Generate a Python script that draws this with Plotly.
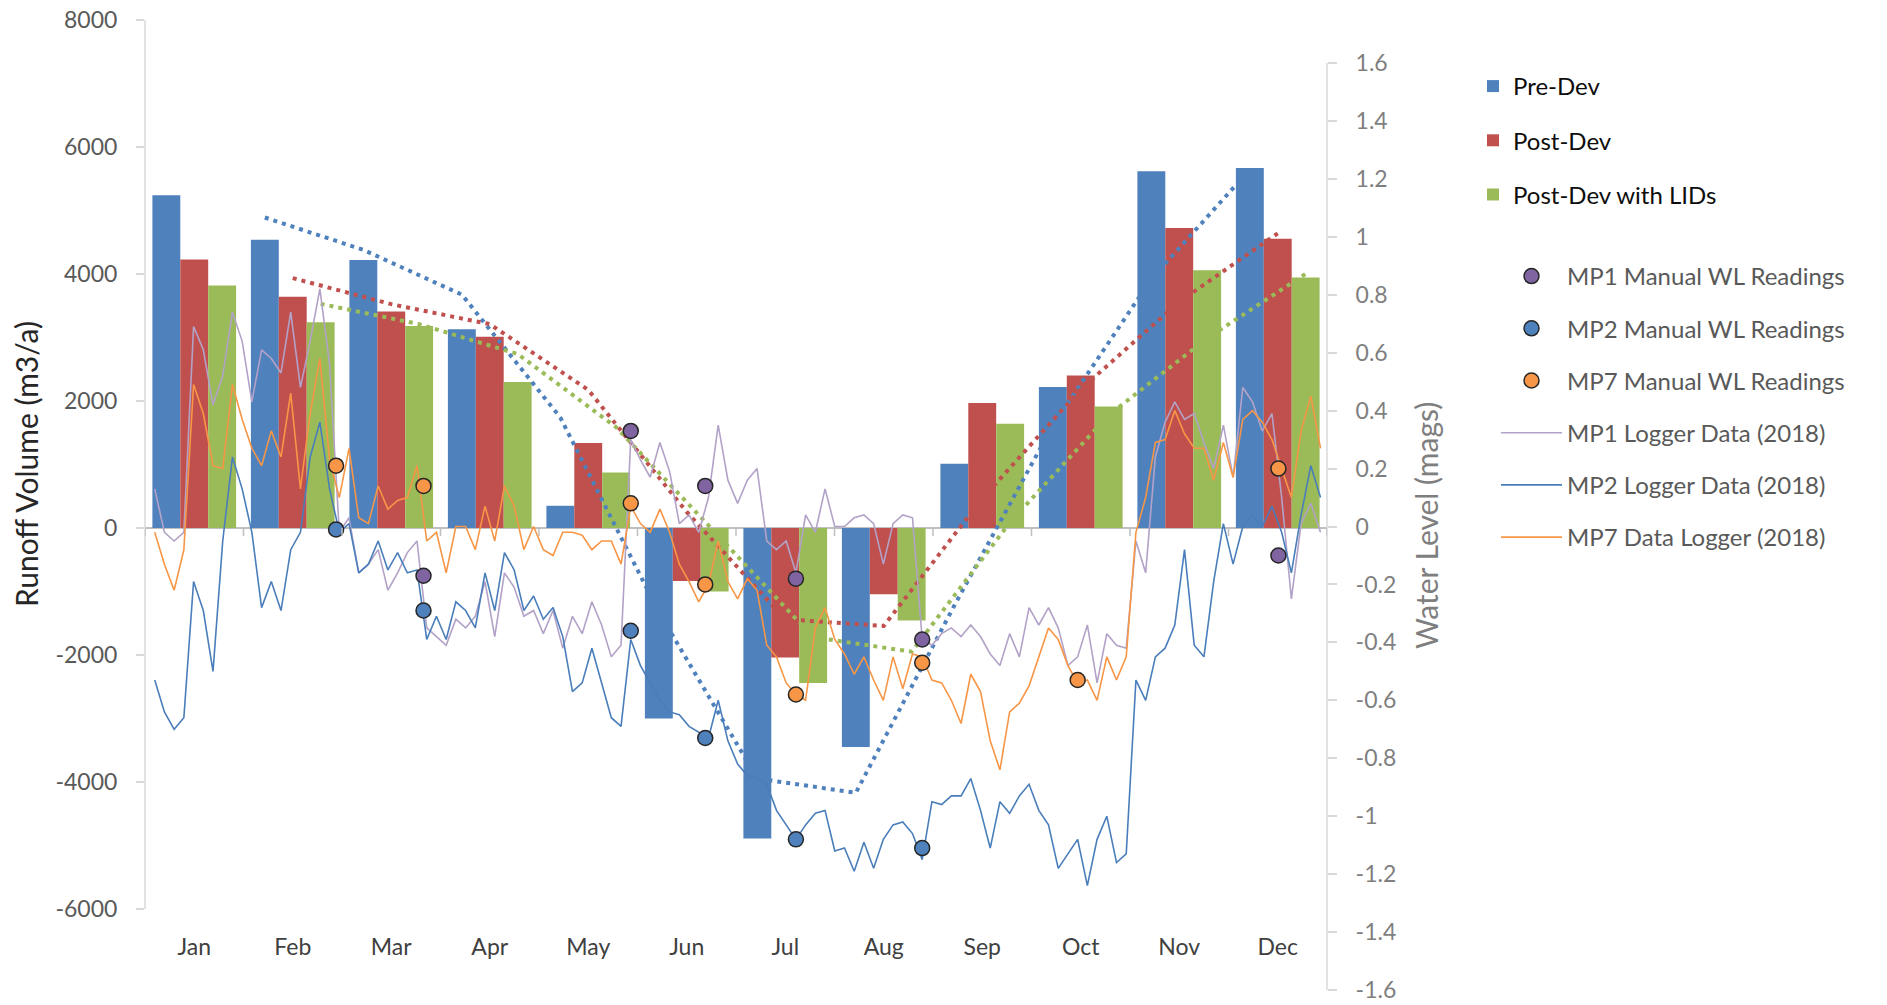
import plotly.graph_objects as go

# ---- Monthly runoff volumes (m3/a) ----
months = ["Jan", "Feb", "Mar", "Apr", "May", "Jun", "Jul", "Aug", "Sep", "Oct", "Nov", "Dec"]
pre_dev = [5240, 4540, 4220, 3130, 350, -3000, -4890, -3450, 1010, 2220, 5620, 5670]
post_dev = [4230, 3640, 3410, 3010, 1340, -835, -2040, -1045, 1970, 2400, 4725, 4555]
post_dev_lid = [3820, 3240, 3180, 2300, 875, -1000, -2440, -1455, 1640, 1915, 4060, 3945]

# ---- Logger water levels (mags), sampled every 3 days of 2018 ----
logger_days = list(range(3, 364, 3))
mp1_logger = [
    0.13, -0.02, -0.05, -0.02, 0.69, 0.61, 0.42, 0.52, 0.74, 0.64, 0.43, 0.61,
    0.58, 0.53, 0.74, 0.48, 0.64, 0.82, 0.56, -0.02, 0.03, -0.16, -0.13, -0.08,
    -0.22, -0.16, -0.09, -0.05, -0.35, -0.38, -0.41, -0.32, -0.35, -0.31, -0.19, -0.38,
    -0.16, -0.21, -0.31, -0.29, -0.37, -0.29, -0.42, -0.31, -0.37, -0.26, -0.34, -0.45,
    -0.41,
    0.30, 0.23, 0.17, 0.29, 0.19, 0.01, 0.04, -0.02, 0.10, 0.35, 0.16, 0.08,
    0.16, 0.20, -0.05, -0.08, -0.05, -0.16, 0.04, -0.02, 0.13, 0.00, 0.00, 0.03,
    0.04,
    0.01, -0.13, 0.01, 0.04, 0.03, -0.39, -0.41, -0.37, -0.35, -0.38, -0.34, -0.38,
    -0.44, -0.48, -0.37, -0.45, -0.28, -0.34, -0.28, -0.35, -0.48, -0.45, -0.34, -0.54,
    -0.37,
    -0.41, -0.42, -0.05, -0.16, 0.24, 0.36, 0.43, 0.37, 0.39, 0.29, 0.20, 0.35,
    0.17, 0.48, 0.43, 0.33, 0.39, 0.10, -0.25, 0.01, 0.08, -0.02,
]
mp2_logger = [
    -0.53, -0.64, -0.70, -0.66, -0.19, -0.29, -0.50, -0.05, 0.24, 0.13, -0.02, -0.28,
    -0.19, -0.29, -0.08, -0.02, 0.24, 0.36, 0.13, -0.02, 0.01, -0.16, -0.13, -0.05,
    -0.15, -0.09, -0.16, -0.15, -0.39, -0.31, -0.39, -0.26, -0.29, -0.35, -0.16, -0.29,
    -0.09, -0.15, -0.29, -0.24, -0.32, -0.28, -0.38, -0.57, -0.54, -0.42, -0.54, -0.66,
    -0.69,
    -0.39, -0.48, -0.54, -0.60, -0.64, -0.65, -0.69, -0.71, -0.73, -0.60, -0.74, -0.82,
    -0.86, -0.87, -0.89, -0.98, -1.03, -1.08, -1.03, -0.99, -0.98, -1.12, -1.11, -1.19,
    -1.09,
    -1.18, -1.08, -1.03, -1.02, -1.06, -1.15, -0.95, -0.96, -0.93, -0.93, -0.87, -0.98,
    -1.11, -0.95, -0.99, -0.93, -0.89, -0.98, -1.03, -1.18, -1.13, -1.08, -1.24, -1.08,
    -1.00,
    -1.16, -1.13, -0.53, -0.60, -0.45, -0.42, -0.34, -0.08, -0.41, -0.45, -0.19, 0.01,
    -0.13, 0.00, 0.04, 0.00, 0.07, -0.02, -0.16, 0.04, 0.21, 0.10,
]
mp7_logger = [
    -0.02, -0.13, -0.22, -0.08, 0.49, 0.39, 0.21, 0.20, 0.49, 0.37, 0.27, 0.21,
    0.33, 0.24, 0.46, 0.13, 0.39, 0.58, 0.23, 0.10, 0.27, 0.03, 0.01, 0.14,
    0.06, 0.09, 0.10, 0.21, -0.05, -0.02, -0.16, 0.00, 0.00, -0.08, 0.07, -0.05,
    0.14, 0.07, -0.08, 0.00, -0.08, -0.10, -0.02, -0.02, -0.03, -0.08, -0.05, -0.05,
    -0.13,
    0.07, 0.01, -0.02, 0.06, -0.02, -0.13, -0.19, -0.26, -0.20, -0.05, -0.19, -0.25,
    -0.18, -0.22, -0.41, -0.45, -0.54, -0.58, -0.60, -0.35, -0.28, -0.39, -0.44, -0.51,
    -0.45,
    -0.53, -0.60, -0.45, -0.56, -0.44, -0.45, -0.53, -0.54, -0.60, -0.68, -0.51, -0.57,
    -0.74, -0.84, -0.64, -0.61, -0.55, -0.45, -0.35, -0.39, -0.48, -0.54, -0.53, -0.60,
    -0.45,
    -0.53, -0.45, -0.02, 0.10, 0.29, 0.30, 0.40, 0.32, 0.27, 0.27, 0.16, 0.29,
    0.17, 0.37, 0.40, 0.36, 0.30, 0.20, 0.10, 0.33, 0.45, 0.27,
]

# ---- Manual water level readings (day of year, mags) ----
mp1_manual_days = [86, 150, 173, 201, 240, 350]
mp1_manual = [-0.17, 0.33, 0.14, -0.18, -0.39, -0.10]
mp2_manual_days = [59, 86, 150, 173, 201, 240]
mp2_manual = [-0.01, -0.29, -0.36, -0.73, -1.08, -1.11]
mp7_manual_days = [59, 86, 150, 173, 201, 240, 288, 350]
mp7_manual = [0.21, 0.14, 0.08, -0.20, -0.58, -0.47, -0.53, 0.20]

y1_ticks = [-6000, -4000, -2000, 0, 2000, 4000, 6000, 8000]
y2_ticks = [-1.6, -1.4, -1.2, -1.0, -0.8, -0.6, -0.4, -0.2, 0.0, 0.2, 0.4, 0.6, 0.8, 1.0, 1.2, 1.4, 1.6]

BLUE, RED, GREEN = "#4F81BD", "#C0504D", "#9BBB59"
FONT = "Lato"

W, H = 1887, 1005
# plot area in pixels
PX_L, PX_R = 145, 1327
PX_T, PX_B = 20, 990
BARGAP = 0.15


def fmt(v):
    s = ("%.1f" % v).rstrip("0").rstrip(".")
    return "0" if s in ("-0", "0") else s


def moving_avg(vals):
    return [(a + b) / 2 for a, b in zip(vals[:-1], vals[1:])]


fig = go.Figure()

series = [("Pre-Dev", pre_dev, BLUE), ("Post-Dev", post_dev, RED),
          ("Post-Dev with LIDs", post_dev_lid, GREEN)]
cat_x = list(range(len(months)))
bar_w = (1 - BARGAP) / 3

for name, vals, col in series:
    fig.add_trace(go.Bar(
        x=cat_x, y=vals, name=name, marker=dict(color=col, line=dict(width=0)),
        legend="legend", legendgroup=name,
    ))

# two-period moving-average trendlines, one per bar series
for k, (name, vals, col) in enumerate(series):
    off = (k - 1) * bar_w
    fig.add_trace(go.Scatter(
        x=[i + off for i in cat_x[1:]], y=moving_avg(vals), mode="lines",
        line=dict(color=col, width=4, dash="4px,5px"), showlegend=False,
        hoverinfo="skip",
    ))

manual = [("MP1 Manual WL Readings", mp1_manual_days, mp1_manual, "#8064A2"),
          ("MP2 Manual WL Readings", mp2_manual_days, mp2_manual, "#4F81BD"),
          ("MP7 Manual WL Readings", mp7_manual_days, mp7_manual, "#F79646")]
loggers = [("MP1 Logger Data (2018)", mp1_logger, "#B3A2C7"),
           ("MP2 Logger Data (2018)", mp2_logger, "#4A7EBB"),
           ("MP7 Data Logger (2018)", mp7_logger, "#F79646")]

for name, vals, col in loggers:
    fig.add_trace(go.Scatter(
        x=logger_days, y=vals, mode="lines", name=name,
        line=dict(color=col, width=1.6), xaxis="x2", yaxis="y2",
        legend="legend2", legendgroup=name, legendrank=2,
    ))

for name, days, vals, col in manual:
    fig.add_trace(go.Scatter(
        x=days, y=vals, mode="markers", name=name, xaxis="x2", yaxis="y2",
        marker=dict(color=col, size=15, line=dict(color="#262626", width=1.5)),
        legend="legend2", legendgroup=name, legendrank=1,
    ))

# axis ranges chosen so both value axes map to their pixel spans
y1_top, y1_bot = 8000, -6000
y1_px_top, y1_px_bot = 20, 909
y1_scale = (y1_px_bot - y1_px_top) / (y1_top - y1_bot)
y1_range = [y1_bot - (PX_B - y1_px_bot) / y1_scale, y1_top + (y1_px_top - PX_T) / y1_scale]

y2_top, y2_bot = 1.6, -1.6
y2_px_top, y2_px_bot = 63, 990
y2_scale = (y2_px_bot - y2_px_top) / (y2_top - y2_bot)
y2_range = [y2_bot - (PX_B - y2_px_bot) / y2_scale, y2_top + (y2_px_top - PX_T) / y2_scale]

x_dom = [PX_L / W, PX_R / W]
y_dom = [1 - PX_B / H, 1 - PX_T / H]

fig.update_layout(
    width=W, height=H, margin=dict(l=0, r=0, t=0, b=0, autoexpand=False),
    paper_bgcolor="white", plot_bgcolor="white",
    barmode="group", bargap=BARGAP, bargroupgap=0,
    font=dict(family=FONT, color="#595959"),
    xaxis=dict(
        domain=x_dom, range=[-0.5, 11.5], tickvals=cat_x, ticktext=months,
        anchor="free", position=1 - 931 / H, showline=False, showgrid=False,
        zeroline=False, ticks="", automargin=False,
        tickfont=dict(size=23, color="#404040"),
    ),
    xaxis2=dict(overlaying="x", range=[0, 365], visible=False, automargin=False),
    yaxis=dict(
        domain=y_dom, range=y1_range, tickvals=y1_ticks,
        ticktext=[str(v) for v in y1_ticks], showgrid=False, showline=False,
        zeroline=True, zerolinecolor="#BFBFBF", zerolinewidth=1.5,
        ticks="outside", ticklen=8, tickcolor="#D9D9D9", tickwidth=1.5,
        ticklabelstandoff=14, automargin=False,
        tickfont=dict(size=23, color="#595959"),
    ),
    yaxis2=dict(
        overlaying="y", side="right", anchor="x", range=y2_range,
        tickvals=y2_ticks, ticktext=[fmt(v) for v in y2_ticks],
        showgrid=False, showline=False, zeroline=False,
        ticks="outside", ticklen=9, tickcolor="#D9D9D9", tickwidth=1.5,
        ticklabelstandoff=14, automargin=False,
        tickfont=dict(size=23, color="#7F7F7F"),
    ),
    legend=dict(
        x=1473 / W, y=1 - 64 / H, xanchor="left", yanchor="top",
        traceorder="grouped", tracegroupgap=20, bgcolor="rgba(0,0,0,0)",
        font=dict(family=FONT, size=24, color="#0D0D0D"),
    ),
    legend2=dict(
        x=1496 / W, y=1 - 254 / H, xanchor="left", yanchor="top",
        traceorder="grouped", tracegroupgap=18, bgcolor="rgba(0,0,0,0)",
        itemwidth=61,
        font=dict(family=FONT, size=24, color="#595959"),
    ),
    annotations=[
        dict(text="Runoff Volume (m3/a)", textangle=-90, xref="paper", yref="paper",
             x=26 / W, y=1 - 464 / H, xanchor="center", yanchor="middle",
             showarrow=False, font=dict(family=FONT, size=30, color="#262626")),
        dict(text="Water Level (mags)", textangle=-90, xref="paper", yref="paper",
             x=1426 / W, y=1 - 526 / H, xanchor="center", yanchor="middle",
             showarrow=False, font=dict(family=FONT, size=30, color="#7F7F7F")),
    ],
)

# axis lines: each spans only its own value range
shapes = [
    dict(type="line", xref="x domain", yref="y", x0=0, x1=0, y0=y1_bot, y1=y1_top,
         line=dict(color="#D9D9D9", width=1.5)),
    dict(type="line", xref="x domain", yref="y2", x0=1, x1=1, y0=y2_bot, y1=y2_top,
         line=dict(color="#D9D9D9", width=1.5)),
]
# category tick marks hanging below the zero line
tick_depth = 8 / y1_scale
for i in range(len(months) + 1):
    shapes.append(dict(type="line", xref="x", yref="y", x0=i - 0.5, x1=i - 0.5,
                       y0=0, y1=-tick_depth, line=dict(color="#BFBFBF", width=1.5)))
fig.update_layout(shapes=shapes)

fig.write_html("out.html")
